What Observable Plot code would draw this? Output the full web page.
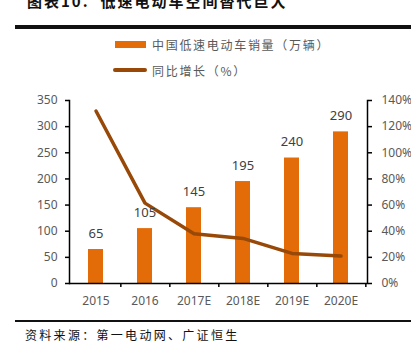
<!DOCTYPE html>
<html><head><meta charset="utf-8">
<script src="https://cdn.jsdelivr.net/npm/d3@7"></script>
<script src="https://cdn.jsdelivr.net/npm/@observablehq/plot@0.6"></script>
<style>
body{margin:0;background:#fff;}
#wrap{position:relative;width:411px;height:351px;overflow:hidden;background:#fff;font-family:"Noto Sans CJK SC",sans-serif;}
#title{position:absolute;left:27px;top:-9px;font-size:15px;line-height:20px;font-weight:bold;color:#111;letter-spacing:2px;white-space:nowrap;}
#topline{position:absolute;left:15px;right:0;top:25px;height:3.5px;background:#111;}
.leg{position:absolute;left:113px;height:16px;display:flex;align-items:center;font-size:12px;color:#595959;letter-spacing:1.7px;white-space:nowrap;}
.swbar{display:inline-block;width:31px;height:7px;background:#E36C09;margin-left:2px;margin-right:6px;}
.swline{display:inline-block;width:34px;height:3.5px;border-radius:2px;background:#984807;margin-right:5px;}
#chart{position:absolute;left:0;top:85px;}
#botline{position:absolute;left:15px;right:0;top:320px;height:2px;background:#111;}
#caption{position:absolute;left:25px;top:326px;font-size:12px;line-height:18px;color:#111;letter-spacing:2.3px;white-space:nowrap;}
</style></head><body>
<div id="wrap">
  <div id="title">图表10.&nbsp;&nbsp;低速电动车空间替代巨大</div>
  <div id="topline"></div>
  <div class="leg" style="top:36px"><span class="swbar"></span><span>中国低速电动车销量（万辆）</span></div>
  <div class="leg" style="top:62px"><span class="swline"></span><span>同比增长（%）</span></div>
  <div id="chart"></div>
  <div id="botline"></div>
  <div id="caption">资料来源：第一电动网、广证恒生</div>
</div>
<script>
const years = ["2015", "2016", "2017E", "2018E", "2019E", "2020E"];
const sales = [65, 105, 145, 195, 240, 290];
const growth = [132, 61.5, 38, 34.5, 23, 21];
const leftTicks = [0, 50, 100, 150, 200, 250, 300, 350];
const rightTicks = [0, 20, 40, 60, 80, 100, 120, 140];

const k = 350 / 140; // right-axis (%) to left-axis units
const data = years.map((year, i) => ({year, sales: sales[i], growth: growth[i]}));

const W = 411, ML = 69, MR = 44;
const step = (W - ML - MR) / years.length;

const chart = Plot.plot({
  width: W, height: 225,
  marginLeft: ML, marginRight: MR, marginTop: 15, marginBottom: 27,
  style: {fontFamily: "'Noto Sans', sans-serif", fontSize: "12px", color: "#595959", background: "transparent", overflow: "visible"},
  x: {domain: years, paddingInner: 0.69, paddingOuter: 0.345, axis: null},
  y: {domain: [0, 350], axis: null},
  marks: [
    Plot.barY(data, {x: "year", y: "sales", fill: "#E36C09"}),
    Plot.line(data, {x: "year", y: d => d.growth * k, stroke: "#984807", strokeWidth: 3.5, strokeLinejoin: "round", strokeLinecap: "round"}),
    Plot.text(data, {x: "year", y: "sales", text: d => String(d.sales), dy: -16, fill: "#404040", fontSize: 13}),
    Plot.ruleY([0], {stroke: "#000", strokeWidth: 1.5}),
    Plot.frame({anchor: "left", stroke: "#000", strokeWidth: 1.5}),
    Plot.frame({anchor: "right", stroke: "#000", strokeWidth: 1.5}),
    Plot.axisY({anchor: "left", ticks: leftTicks, tickSize: 4, tickPadding: 8, stroke: "#000", strokeWidth: 1.5, fill: "#595959", label: null}),
    Plot.axisY({anchor: "right", ticks: rightTicks.map(v => v * k), tickFormat: d => Math.round(d / k) + "%", tickSize: 4, tickPadding: 10, stroke: "#000", strokeWidth: 1.5, fill: "#595959", label: null}),
    Plot.axisX({anchor: "bottom", tickSize: 4, tickFormat: () => "", dx: step / 2, stroke: "#000", strokeWidth: 1.5, label: null}),
    Plot.axisX({anchor: "bottom", tickSize: 0, tickPadding: 13, fill: "#595959", label: null})
  ]
});
document.getElementById("chart").appendChild(chart);
</script>
</body></html>
